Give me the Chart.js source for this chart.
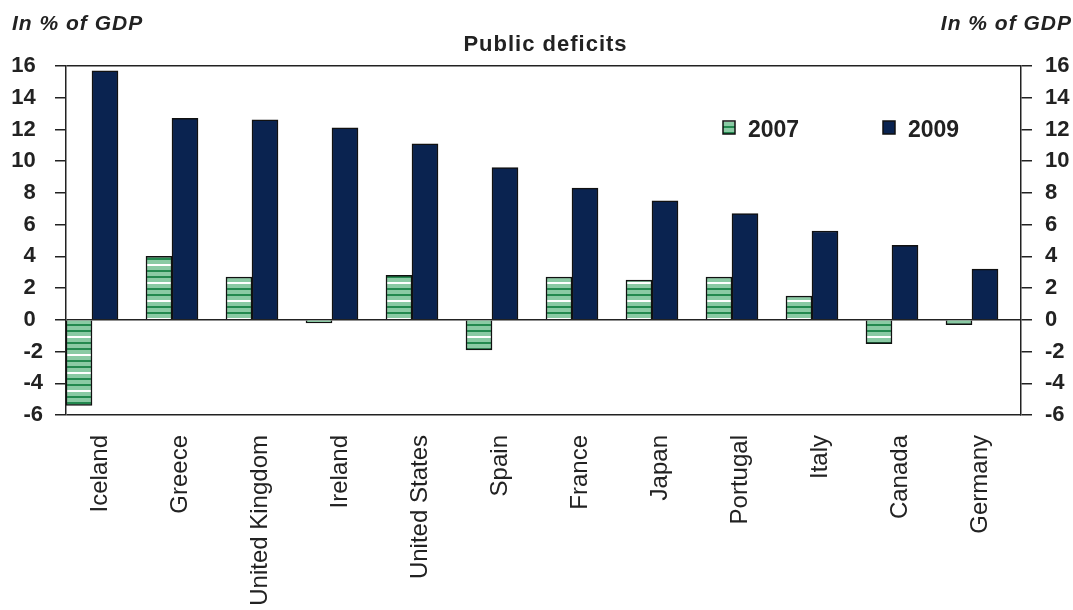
<!DOCTYPE html>
<html>
<head>
<meta charset="utf-8">
<title>Public deficits</title>
<script src="https://cdn.jsdelivr.net/npm/chart.js@4.4.1/dist/chart.umd.min.js"></script>
<style>
  html, body { margin: 0; padding: 0; background: #fff; }
  #wrap { position: relative; width: 1073px; height: 610px; }
</style>
</head>
<body>
<div id="wrap"><canvas id="deficits"></canvas></div>
<script>
// Public deficits in 2007 and 2009, in % of GDP
const countries = ['Iceland', 'Greece', 'United Kingdom', 'Ireland', 'United States', 'Spain',
                   'France', 'Japan', 'Portugal', 'Italy', 'Canada', 'Germany'];
const deficit2007 = [-5.4, 4.0, 2.7, -0.2, 2.8, -1.9, 2.7, 2.5, 2.7, 1.5, -1.5, -0.3];
const deficit2009 = [15.7, 12.7, 12.6, 12.1, 11.1, 9.6, 8.3, 7.5, 6.7, 5.6, 4.7, 3.2];
const yTicks = [-6, -4, -2, 0, 2, 4, 6, 8, 10, 12, 14, 16];
const seriesNames = ['2007', '2009'];
const chartTitle = 'Public deficits';
const unitLabel = 'In % of GDP';

const FONT = "'Liberation Sans', Arial, sans-serif";
const INK = '#222';
const NAVY = '#0a2350';

// light green with thin horizontal stripes for the 2007 bars
function stripePattern() {
    const c = document.createElement('canvas');
    c.width = 8; c.height = 18;
    const g = c.getContext('2d');
    g.fillStyle = '#8acaa4'; g.fillRect(0, 0, 8, 18);
    g.fillStyle = '#23894f'; g.fillRect(0, 0, 8, 2); g.fillRect(0, 6, 8, 2);
    g.fillStyle = '#ffffff'; g.fillRect(0, 12, 8, 2);
    return g.createPattern(c, 'repeat');
}

// positive labels get a trailing ")"-wide space so they sit left of the minus ones
const tickText = v => (v < 0 ? String(v) : v + '\u2004');
const isFrameLine = v => v === 0 || v === yTicks[0] || v === yTicks[yTicks.length - 1];

const texts = {
    id: 'texts',
    afterDraw(chart) {
        const ctx = chart.ctx;
        const area = chart.chartArea;
        ctx.save();
        ctx.fillStyle = INK;
        ctx.textBaseline = 'alphabetic';
        if ('letterSpacing' in ctx) ctx.letterSpacing = '1px';

        ctx.font = `italic bold 21px ${FONT}`;
        ctx.textAlign = 'left';
        ctx.fillText(unitLabel, 12, 30);
        ctx.textAlign = 'right';
        ctx.fillText(unitLabel, 1072, 30);

        ctx.font = `bold 22px ${FONT}`;
        ctx.textAlign = 'center';
        ctx.fillText(chartTitle, (area.left + area.right) / 2 + 2, 51);

        // legend
        const legendX = [723, 883];
        ctx.font = `bold 23px ${FONT}`;
        ctx.textAlign = 'left';
        if ('letterSpacing' in ctx) ctx.letterSpacing = '0px';
        chart.data.datasets.forEach((ds, i) => {
            const x = legendX[i];
            ctx.fillStyle = ds.backgroundColor;
            ctx.fillRect(x, 121, 12, 13);
            ctx.strokeStyle = '#111';
            ctx.lineWidth = 1.5;
            ctx.strokeRect(x, 121, 12, 13);
            ctx.fillStyle = INK;
            ctx.fillText(ds.label, x + 25, 137);
        });
        ctx.restore();
    }
};

function yAxis(position, width, padding, onArea) {
    return {
        position,
        min: yTicks[0],
        max: yTicks[yTicks.length - 1],
        afterBuildTicks: s => { s.ticks = yTicks.map(v => ({ value: v })); },
        afterFit: s => { s.width = width; },
        grid: {
            drawOnChartArea: onArea,
            color: c => (c.tick && isFrameLine(c.tick.value) ? INK : 'rgba(0,0,0,0)'),
            tickColor: INK,
            lineWidth: 1.5,
            tickLength: 11
        },
        border: { display: true, color: INK, width: 1.5 },
        ticks: {
            padding,
            color: INK,
            font: { family: FONT, size: 22, weight: 'bold' },
            callback: tickText
        }
    };
}

const pattern = stripePattern();

new Chart(document.getElementById('deficits'), {
    type: 'bar',
    data: {
        datasets: [
            {
                label: seriesNames[0],
                data: deficit2007.map((v, i) => ({ x: i, y: v })),
                backgroundColor: pattern,
                borderColor: '#111',
                borderWidth: 1.5,
                barThickness: 26
            },
            {
                label: seriesNames[1],
                data: deficit2009.map((v, i) => ({ x: i, y: v })),
                backgroundColor: NAVY,
                borderColor: '#111',
                borderWidth: 1.5,
                barThickness: 26
            }
        ]
    },
    options: {
        responsive: true,
        maintainAspectRatio: false,
        animation: false,
        layout: { padding: { top: 66, left: 0, right: 0, bottom: 0 } },
        plugins: { legend: { display: false }, title: { display: false }, tooltip: { enabled: false } },
        scales: {
            x: {
                type: 'linear',
                offset: false,
                min: -0.325,
                max: 11.6125,
                afterBuildTicks: s => { s.ticks = countries.map((_, i) => ({ value: i })); },
                afterFit: s => { s.height = 195; },
                grid: { display: false, drawTicks: false, offset: false },
                border: { display: false },
                ticks: {
                    autoSkip: false,
                    minRotation: 90,
                    maxRotation: 90,
                    padding: 20,
                    labelOffset: 8,
                    color: INK,
                    font: { family: FONT, size: 24 },
                    callback: v => countries[v]
                }
            },
            y: yAxis('left', 66, 12, true),
            y2: yAxis('right', 52, 13, false)
        }
    },
    plugins: [texts]
});
</script>
</body>
</html>
